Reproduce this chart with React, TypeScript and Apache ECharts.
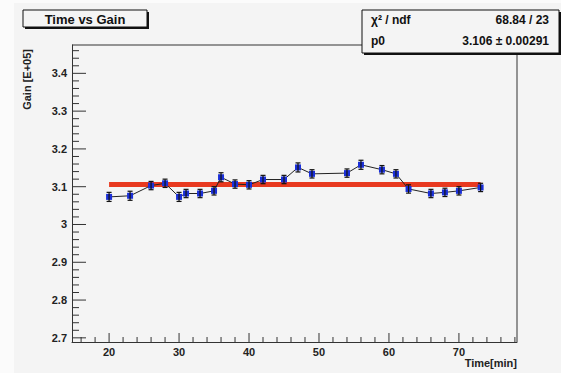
import React, { useEffect, useRef } from "react";
import * as echarts from "echarts";

const times = [20, 23, 26, 28, 30, 31, 33, 35, 36, 38, 40, 42, 45, 47, 49, 54, 56, 59, 61, 62.8, 66, 68, 70, 73.1];
const gains = [3.073, 3.076, 3.103, 3.109, 3.073, 3.082, 3.082, 3.089, 3.125, 3.107, 3.105, 3.119, 3.119, 3.151, 3.134, 3.136, 3.158, 3.145, 3.134, 3.094, 3.082, 3.085, 3.089, 3.098];
const gainErrors = [0.012, 0.012, 0.011, 0.011, 0.012, 0.011, 0.011, 0.011, 0.012, 0.011, 0.011, 0.011, 0.011, 0.012, 0.011, 0.011, 0.012, 0.011, 0.011, 0.011, 0.011, 0.011, 0.011, 0.011];
const fitP0 = 3.106;
const xMajorTicks = [20, 30, 40, 50, 60, 70];
const xMinorTicks = [16, 18, 22, 24, 26, 28, 32, 34, 36, 38, 42, 44, 46, 48, 52, 54, 56, 58, 62, 64, 66, 68, 72, 74, 76, 78];
const yMajorTicks = [2.7, 2.8, 2.9, 3.0, 3.1, 3.2, 3.3, 3.4];
const yMinorTicks = [2.72, 2.74, 2.76, 2.78, 2.82, 2.84, 2.86, 2.88, 2.92, 2.94, 2.96, 2.98, 3.02, 3.04, 3.06, 3.08, 3.12, 3.14, 3.16, 3.18, 3.22, 3.24, 3.26, 3.28, 3.32, 3.34, 3.36, 3.38, 3.42, 3.44, 3.46];
const titleText = "Time vs Gain";
const statsRows = [
  ["χ² / ndf", "68.84 / 23"],
  ["p0", "3.106 ± 0.00291"],
];
const xName = "Time[min]";
const yName = "Gain [E+05]";

const X_MIN = 14.7;
const X_MAX = 78.3;
const Y_MIN = 2.689;
const Y_MAX = 3.475;

const FONT = "Liberation Sans, Arial, sans-serif";
const AXIS_COLOR = "#333";

function tickSeries(values: number[], isX: boolean, len: number) {
  return {
    type: "custom",
    data: values.map((v) => (isX ? [v, Y_MIN] : [X_MIN, v])),
    renderItem: (params: any, api: any) => {
      const p = api.coord([api.value(0), api.value(1)]);
      const style = { stroke: AXIS_COLOR, lineWidth: 1 };
      if (isX) {
        return { type: "line", shape: { x1: p[0], y1: p[1], x2: p[0], y2: p[1] - len }, style };
      }
      return { type: "line", shape: { x1: p[0], y1: p[1], x2: p[0] + len, y2: p[1] }, style };
    },
  };
}

export default function App() {
  const ref = useRef<HTMLDivElement>(null);
  useEffect(() => {
    document.body.style.margin = "0";
    const chart = echarts.init(ref.current!, undefined, { renderer: "svg" });
    const pts = times.map((t, i) => [t, gains[i]]);
    const errData = times.map((t, i) => [t, gains[i], gainErrors[i]]);
    const labelStyle = { fontFamily: FONT, fontWeight: "bold" as const, fontSize: 11, color: "#222" };
    const option: any = {
      animation: false,
      backgroundColor: "#f4f4f4",
      grid: { left: 72, top: 45, right: 44, bottom: 31 },
      xAxis: {
        type: "value", min: X_MIN, max: X_MAX, position: "bottom",
        axisLine: { show: true, lineStyle: { color: AXIS_COLOR, width: 1 } },
        axisTick: { show: false },
        axisLabel: { show: true, customValues: xMajorTicks, margin: 4, ...labelStyle },
        splitLine: { show: false },
      },
      yAxis: {
        type: "value", min: Y_MIN, max: Y_MAX, position: "left",
        axisLine: { show: true, lineStyle: { color: AXIS_COLOR, width: 1 } },
        axisTick: { show: false },
        axisLabel: { show: true, customValues: yMajorTicks, margin: 5, ...labelStyle },
        splitLine: { show: false },
      },
      series: [
        {
          type: "line",
          data: [[times[0], fitP0], [times[times.length - 1], fitP0]],
          symbol: "none",
          lineStyle: { color: "#e8391f", width: 5 },
          z: 1,
        },
        {
          type: "line",
          data: pts,
          symbol: "rect",
          symbolSize: 6,
          itemStyle: { color: "#1a2fd8" },
          lineStyle: { color: "#222", width: 1 },
          z: 3,
        },
        {
          type: "custom",
          data: errData,
          z: 4,
          renderItem: (params: any, api: any) => {
            const x = api.value(0);
            const y = api.value(1);
            const e = api.value(2);
            const top = api.coord([x, y + e]);
            const bot = api.coord([x, y - e]);
            const style = { stroke: "#111", lineWidth: 1.2 };
            return {
              type: "group",
              children: [
                { type: "line", shape: { x1: top[0], y1: top[1], x2: bot[0], y2: bot[1] }, style },
                { type: "line", shape: { x1: top[0] - 2.5, y1: top[1], x2: top[0] + 2.5, y2: top[1] }, style },
                { type: "line", shape: { x1: bot[0] - 2.5, y1: bot[1], x2: bot[0] + 2.5, y2: bot[1] }, style },
              ],
            };
          },
        },
        tickSeries(xMajorTicks, true, 9),
        tickSeries(xMinorTicks, true, 5),
        tickSeries(yMajorTicks, false, 14),
        tickSeries(yMinorTicks, false, 7),
      ],
      graphic: [
        { type: "rect", shape: { x: 0, y: 0, width: 14, height: 373 }, style: { fill: "#fbfbfb" }, z: -10, silent: true },
        { type: "rect", shape: { x: 0, y: 0, width: 561, height: 3 }, style: { fill: "#fbfbfb" }, z: -10, silent: true },
        // plot frame (top and right edges)
        { type: "polyline", shape: { points: [[72, 45], [517, 45], [517, 342]] }, style: { stroke: AXIS_COLOR, lineWidth: 1, fill: "none" }, z: 10 },
        // title box
        { type: "rect", shape: { x: 25, y: 12, width: 124, height: 17 }, style: { fill: "#111" }, z: 100 },
        { type: "rect", shape: { x: 23, y: 10, width: 124, height: 17 }, style: { fill: "#f4f4f4", stroke: "#111", lineWidth: 1 }, z: 101 },
        { type: "text", x: 85, y: 19, style: { text: titleText, font: `bold 13px ${FONT}`, fill: "#111", align: "center", verticalAlign: "middle" }, z: 102 },
        // stats box
        { type: "rect", shape: { x: 364, y: 12, width: 197, height: 43 }, style: { fill: "#111" }, z: 100 },
        { type: "rect", shape: { x: 362, y: 10, width: 197, height: 43 }, style: { fill: "#f4f4f4", stroke: "#111", lineWidth: 1 }, z: 101 },
        { type: "text", x: 371, y: 20, style: { text: statsRows[0][0], font: `bold 12px ${FONT}`, fill: "#111", align: "left", verticalAlign: "middle" }, z: 102 },
        { type: "text", x: 549, y: 20, style: { text: statsRows[0][1], font: `bold 12px ${FONT}`, fill: "#111", align: "right", verticalAlign: "middle" }, z: 102 },
        { type: "text", x: 371, y: 41, style: { text: statsRows[1][0], font: `bold 12px ${FONT}`, fill: "#111", align: "left", verticalAlign: "middle" }, z: 102 },
        { type: "text", x: 549, y: 41, style: { text: statsRows[1][1], font: `bold 12px ${FONT}`, fill: "#111", align: "right", verticalAlign: "middle" }, z: 102 },
        // axis names
        { type: "text", x: 517, y: 363, style: { text: xName, font: `bold 11px ${FONT}`, fill: "#222", align: "right", verticalAlign: "middle" }, z: 50 },
        { type: "text", x: 27, y: 49, rotation: Math.PI / 2, style: { text: yName, font: `bold 11px ${FONT}`, fill: "#222", align: "right", verticalAlign: "middle" }, z: 50 },
      ],
    };
    chart.setOption(option);
    return () => chart.dispose();
  }, []);
  return <div ref={ref} style={{ width: 561, height: 373 }} />;
}
